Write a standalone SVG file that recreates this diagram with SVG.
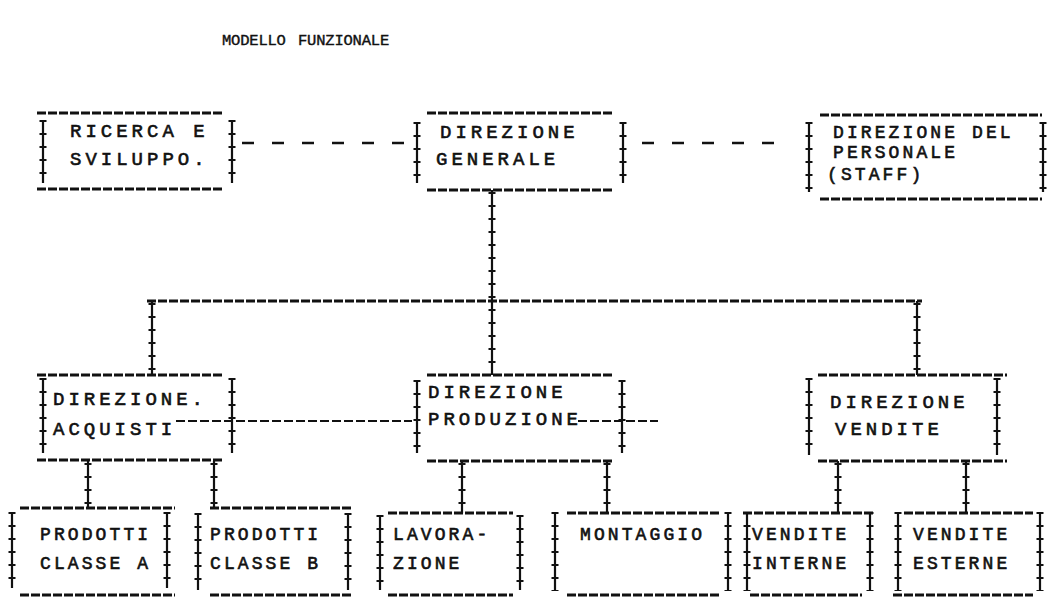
<svg xmlns="http://www.w3.org/2000/svg" width="1057" height="607" viewBox="0 0 1057 607">
  <style>
    .bg { fill: #ffffff; }
    /* typed hyphen rows forming the horizontal sides */
    .h { stroke: #111; stroke-width: 3; stroke-dasharray: 9 2; fill: none; }
    /* stacked "I" strokes forming the vertical sides and links */
    .v { stroke: #111; stroke-width: 2.2; fill: none; }
    .vt { stroke: #111; stroke-width: 7; stroke-dasharray: 2 11; fill: none; }
    /* dashed staff / coordination links */
    .d { stroke: #111; stroke-width: 2.6; stroke-dasharray: 12 18; fill: none; }
    .d2 { stroke: #111; stroke-width: 2.2; stroke-dasharray: 9 3; fill: none; }
    .t { font-family: "Liberation Mono", "DejaVu Sans Mono", monospace; font-size: 19px; letter-spacing: 4px; fill: #111; stroke: #111; stroke-width: 0.6; }
    .ts { font-family: "Liberation Mono", "DejaVu Sans Mono", monospace; font-size: 18px; letter-spacing: 3.1px; fill: #111; stroke: #111; stroke-width: 0.6; }
    .title { font-family: "Liberation Mono", "DejaVu Sans Mono", monospace; font-size: 15.5px; letter-spacing: -0.2px; fill: #111; stroke: #111; stroke-width: 0.4; }
  </style>

  <rect class="bg" x="0" y="0" width="1057" height="607"/>

  <text class="title" y="45"><tspan x="222">MODELLO</tspan><tspan x="298">FUNZIONALE</tspan></text>

  <!-- connectors -->
  <g id="connectors">
    <path class="d" d="M242 143 H404"/>
    <path class="d" d="M642 143 H792"/>
    <path class="v" d="M492 190 V375"/>
    <path class="vt" d="M492 192 V375"/>
    <path class="h" d="M147 301 H922"/>
    <path class="v" d="M152 301 V375"/>
    <path class="vt" d="M152 303 V375"/>
    <path class="v" d="M917 301 V375"/>
    <path class="vt" d="M917 303 V375"/>
    <path class="d2" d="M176 421 H412"/>
    <path class="d2" d="M578 421 H658"/>
    <path class="v" d="M88 461 V508"/>
    <path class="vt" d="M88 463 V508"/>
    <path class="v" d="M214 461 V508"/>
    <path class="vt" d="M214 463 V508"/>
    <path class="v" d="M462 461 V513"/>
    <path class="vt" d="M462 463 V513"/>
    <path class="v" d="M607 461 V513"/>
    <path class="vt" d="M607 463 V513"/>
    <path class="v" d="M838 461 V513"/>
    <path class="vt" d="M838 463 V513"/>
    <path class="v" d="M966 461 V513"/>
    <path class="vt" d="M966 463 V513"/>
  </g>

  <g id="ricerca-sviluppo">
    <path class="h" d="M37 113 H223 M37 189 H223"/>
    <path class="v" d="M43 120 V183 M232 120 V183"/>
    <path class="vt" d="M43 120 V184 M232 120 V184"/>
    <text class="t" x="70" y="137">RICERCA E</text>
    <text class="t" x="70" y="165">SVILUPPO.</text>
  </g>

  <g id="direzione-generale">
    <path class="h" d="M427 113 H613 M427 190 H613"/>
    <path class="v" d="M417 122 V183 M623 122 V183"/>
    <path class="vt" d="M417 122 V184 M623 122 V184"/>
    <text class="t" x="440" y="138">DIREZIONE</text>
    <text class="t" x="436" y="165">GENERALE</text>
  </g>

  <g id="direzione-personale">
    <path class="h" d="M820 115 H1042 M820 199 H1042"/>
    <path class="v" d="M809 122 V192 M1043 122 V192"/>
    <path class="vt" d="M809 122 V193 M1043 122 V193"/>
    <text class="ts" x="833" y="138">DIREZIONE DEL</text>
    <text class="ts" x="833" y="158">PERSONALE</text>
    <text class="ts" x="827" y="180">(STAFF)</text>
  </g>

  <g id="direzione-acquisti">
    <path class="h" d="M37 375 H223 M37 460 H223"/>
    <path class="v" d="M43 378 V453 M232 378 V453"/>
    <path class="vt" d="M43 378 V454 M232 378 V454"/>
    <text class="t" x="53" y="405">DIREZIONE.</text>
    <text class="t" x="53" y="435">ACQUISTI</text>
  </g>

  <g id="direzione-produzione">
    <path class="h" d="M427 375 H613 M427 461 H613"/>
    <path class="v" d="M417 380 V453 M622 380 V453"/>
    <path class="vt" d="M417 380 V454 M622 380 V454"/>
    <text class="t" x="428" y="398">DIREZIONE</text>
    <text class="t" x="428" y="425">PRODUZIONE</text>
  </g>

  <g id="direzione-vendite">
    <path class="h" d="M818 375 H1007 M818 461 H1007"/>
    <path class="v" d="M809 378 V455 M997 378 V455"/>
    <path class="vt" d="M809 378 V456 M997 378 V456"/>
    <text class="t" x="830" y="408">DIREZIONE</text>
    <text class="t" x="835" y="435">VENDITE</text>
  </g>

  <g id="prodotti-classe-a">
    <path class="h" d="M20 508 H175 M20 595 H175"/>
    <path class="v" d="M12 512 V588 M167 512 V588"/>
    <path class="vt" d="M12 512 V589 M167 512 V589"/>
    <text class="ts" x="40" y="540">PRODOTTI</text>
    <text class="ts" x="40" y="569">CLASSE A</text>
  </g>

  <g id="prodotti-classe-b">
    <path class="h" d="M210 508 H353 M210 595 H353"/>
    <path class="v" d="M198 513 V590 M348 513 V590"/>
    <path class="vt" d="M198 513 V591 M348 513 V591"/>
    <text class="ts" x="210" y="540">PRODOTTI</text>
    <text class="ts" x="210" y="569">CLASSE B</text>
  </g>

  <g id="lavorazione">
    <path class="h" d="M388 513 H513 M388 595 H513"/>
    <path class="v" d="M380 515 V590 M520 515 V590"/>
    <path class="vt" d="M380 515 V591 M520 515 V591"/>
    <text class="ts" x="393" y="540">LAVORA-</text>
    <text class="ts" x="393" y="569">ZIONE</text>
  </g>

  <g id="montaggio">
    <path class="h" d="M567 513 H720 M567 595 H720"/>
    <path class="v" d="M555 512 V590 M728 512 V590"/>
    <path class="vt" d="M555 512 V591 M728 512 V591"/>
    <text class="ts" x="580" y="540">MONTAGGIO</text>
  </g>

  <g id="vendite-interne">
    <path class="h" d="M743 513 H873 M750 595 H862"/>
    <path class="v" d="M747 512 V590 M870 512 V590"/>
    <path class="vt" d="M747 512 V591 M870 512 V591"/>
    <text class="ts" x="752" y="540">VENDITE</text>
    <text class="ts" x="752" y="569">INTERNE</text>
  </g>

  <g id="vendite-esterne">
    <path class="h" d="M904 513 H1033 M893 595 H1033"/>
    <path class="v" d="M898 512 V590 M1040 512 V590"/>
    <path class="vt" d="M898 512 V591 M1040 512 V591"/>
    <text class="ts" x="913" y="540">VENDITE</text>
    <text class="ts" x="913" y="569">ESTERNE</text>
  </g>
</svg>
